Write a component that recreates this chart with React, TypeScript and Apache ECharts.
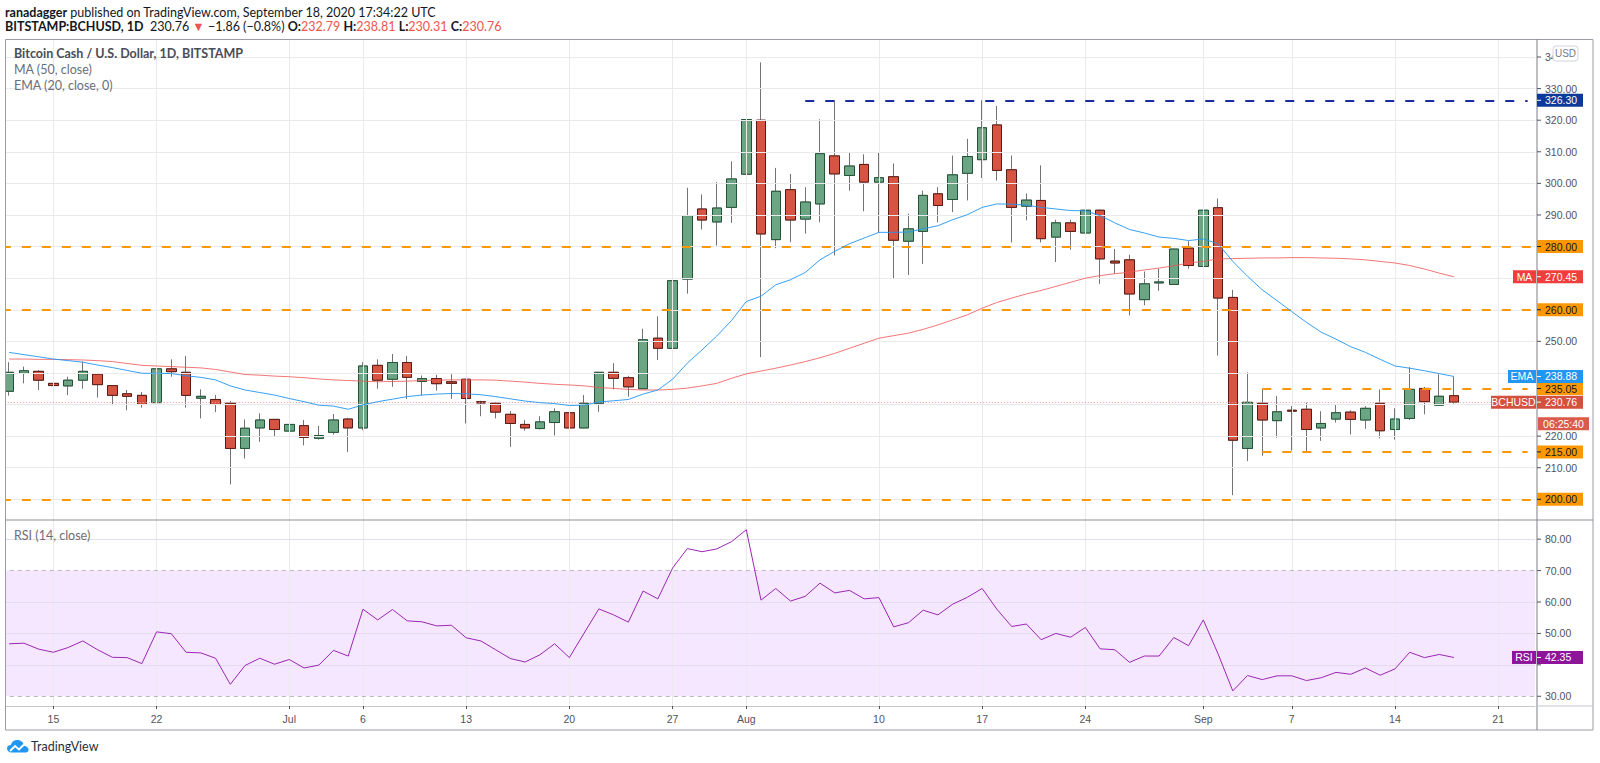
import React, { useEffect, useRef } from "react";
import * as echarts from "echarts";

// ---------- data ----------
const START_DATE = "2020-06-12";
const DAY_COUNT = 104; // Jun 12 .. Sep 23 (last 5 days empty)

const xTickDates = [
  "2020-06-15", "2020-06-22", "2020-07-01", "2020-07-06", "2020-07-13", "2020-07-20", "2020-07-27",
  "2020-08-01", "2020-08-10", "2020-08-17", "2020-08-24", "2020-09-01", "2020-09-07", "2020-09-14", "2020-09-21",
];
const xTickLabels = ["15", "22", "Jul", "6", "13", "20", "27", "Aug", "10", "17", "24", "Sep", "7", "14", "21"];

const open = [
  234.2, 239.9, 240.5, 236.7, 235.9, 237.7, 239.6, 236.0, 233.4, 232.9, 230.6, 241.3, 240.2, 232.0, 231.6, 230.4, 216.1, 222.6, 225.3, 221.6,
  223.3, 219.3, 221.2, 225.4, 222.6, 242.4, 238.0, 243.3, 237.3, 238.2, 237.2, 238.0, 230.9, 230.4, 226.9, 223.7, 222.4, 224.3, 227.4, 222.6,
  230.4, 240.2, 238.5, 235.0, 251.0, 247.8, 269.7, 291.9, 287.8, 292.4, 302.9, 320.0, 282.2, 298.0, 288.7, 293.5, 308.7, 302.5, 306.0, 300.4,
  302.1, 281.7, 284.8, 296.7, 294.9, 303.2, 307.5, 318.5, 304.3, 292.8, 294.6, 283.0, 287.5, 284.3, 291.5, 275.4, 275.8, 263.2, 268.5, 268.0,
  279.5, 273.7, 292.3, 263.9, 216.1, 230.4, 224.9, 228.2, 228.5, 222.6, 225.4, 227.6, 225.1, 230.4, 222.1, 225.6, 235.1, 229.8, 232.79,
];
const high = [
  243.4, 242.0, 240.9, 237.8, 238.8, 243.6, 240.0, 236.0, 234.6, 234.0, 244.1, 244.3, 245.4, 234.8, 233.0, 231.1, 225.3, 227.2, 225.3, 226.3,
  225.1, 223.2, 227.0, 225.8, 243.4, 244.3, 246.0, 245.4, 239.2, 239.4, 239.6, 238.2, 231.2, 230.6, 227.9, 225.1, 226.3, 228.8, 227.7, 233.0,
  240.3, 243.1, 239.1, 254.0, 257.9, 275.8, 298.6, 296.5, 300.4, 307.0, 322.1, 338.3, 304.9, 303.0, 298.8, 320.3, 326.3, 309.7, 309.2, 309.7,
  306.3, 290.4, 297.7, 298.8, 308.8, 314.1, 326.3, 324.5, 308.8, 296.8, 305.7, 288.5, 288.5, 294.4, 291.7, 279.2, 277.4, 272.1, 273.0, 279.3,
  281.7, 297.0, 295.2, 266.3, 240.2, 235.0, 232.7, 229.5, 230.6, 227.9, 230.0, 228.2, 229.5, 234.8, 228.8, 241.8, 235.6, 239.6, 238.81,
];
const low = [
  232.8, 236.7, 234.6, 224.2, 233.0, 235.0, 232.2, 229.8, 228.2, 229.0, 230.4, 238.8, 229.0, 225.6, 227.6, 204.7, 212.9, 218.2, 220.0, 221.0,
  217.1, 218.9, 220.5, 215.0, 221.9, 235.0, 235.6, 231.8, 232.9, 234.4, 231.8, 224.0, 226.3, 225.6, 216.6, 221.7, 222.1, 220.2, 220.5, 222.5,
  227.7, 234.8, 232.5, 235.0, 244.1, 247.5, 265.1, 285.4, 280.3, 287.5, 298.8, 245.0, 279.5, 281.4, 284.1, 287.7, 277.2, 297.7, 291.2, 284.3,
  269.9, 271.0, 274.5, 287.7, 290.9, 294.6, 301.7, 300.9, 281.3, 288.3, 281.3, 275.1, 279.0, 282.2, 268.2, 271.4, 258.2, 261.4, 266.0, 267.9,
  273.0, 268.4, 245.5, 201.3, 212.1, 213.8, 219.5, 215.4, 215.3, 218.5, 224.3, 220.5, 222.3, 219.3, 218.9, 225.1, 226.9, 229.6, 230.31,
];
const close = [
  240.2, 240.7, 237.7, 236.0, 237.7, 240.5, 236.3, 232.9, 232.6, 230.0, 241.3, 240.4, 232.9, 232.6, 230.0, 216.1, 222.5, 225.1, 222.1, 223.7,
  219.6, 220.2, 225.1, 222.6, 242.2, 237.7, 243.3, 238.6, 238.2, 236.6, 236.7, 231.9, 230.5, 227.6, 224.0, 222.6, 224.5, 227.7, 222.6, 230.4,
  240.2, 238.3, 235.6, 250.5, 247.8, 269.2, 289.8, 288.4, 292.2, 301.4, 320.2, 284.0, 297.5, 288.4, 294.1, 309.4, 303.0, 305.5, 300.4, 301.8,
  282.0, 285.6, 296.2, 293.0, 302.7, 308.5, 317.6, 304.1, 292.4, 294.7, 282.5, 287.5, 284.8, 291.5, 276.1, 274.8, 265.0, 268.2, 268.8, 279.2,
  274.0, 291.5, 263.7, 218.7, 230.7, 225.1, 227.7, 227.9, 222.1, 224.0, 227.4, 225.3, 228.8, 221.7, 225.4, 234.8, 230.9, 232.62, 230.76,
];
const ma50 = [
  244.4, 244.4, 244.3, 244.3, 244.2, 244.1, 243.9, 243.6, 243.0, 242.4, 242.2, 242.0, 241.8, 241.6, 241.1, 240.3, 239.5, 239.3, 239.0, 238.8,
  238.5, 238.1, 237.8, 237.6, 237.4, 237.2, 237.3, 237.4, 237.6, 237.7, 237.8, 237.8, 237.8, 237.7, 237.4, 237.1, 236.7, 236.4, 236.2, 235.9,
  235.4, 235.1, 234.8, 234.6, 234.6, 234.8, 235.2, 235.9, 236.7, 238.3, 239.7, 240.6, 241.5, 242.5, 243.6, 244.8, 246.2, 247.8, 249.4, 251.0,
  251.8, 252.6, 253.8, 255.2, 256.8, 258.4, 260.5, 262.3, 263.7, 265.0, 266.1, 267.4, 268.7, 270.0, 270.8, 271.4, 271.9, 272.6, 273.2, 273.9,
  274.8, 275.3, 276.1, 276.2, 276.3, 276.4, 276.4, 276.5, 276.5, 276.4, 276.3, 276.1, 275.8, 275.3, 274.8, 274.0, 272.9, 271.6, 270.45,
];
const ema20 = [
  246.5, 245.8, 245.1, 244.4, 243.9, 243.4, 242.5, 241.7, 240.8, 239.9, 239.9, 239.8, 239.1, 238.6, 237.8, 235.9, 234.6, 233.8, 233.0, 231.9,
  230.9, 229.8, 229.5, 228.5, 229.9, 230.9, 231.7, 232.5, 233.0, 233.3, 233.5, 233.4, 233.1, 232.5, 231.8, 231.1, 230.6, 230.3, 229.7, 229.8,
  230.8, 231.2, 231.6, 233.3, 234.6, 238.0, 243.1, 247.3, 251.7, 256.6, 262.6, 264.3, 267.9, 269.5, 271.8, 275.8, 278.5, 280.9, 282.7, 284.5,
  284.5, 284.6, 285.6, 286.6, 288.5, 290.1, 292.4, 293.5, 293.4, 293.1, 292.4, 291.9, 291.4, 291.3, 289.8, 287.5, 285.4, 284.3, 283.0, 282.6,
  281.9, 282.4, 280.9, 275.3, 270.6, 266.3, 262.9, 259.4, 256.0, 252.9, 250.7, 248.3, 246.5, 244.3, 242.2, 241.5, 240.7, 239.8, 238.88,
];
const rsi14 = [
  46.7, 46.9, 45.0, 44.0, 45.5, 47.6, 44.8, 42.4, 42.3, 40.4, 50.5, 49.9, 44.0, 43.8, 42.1, 33.8, 39.8, 42.1, 40.2, 41.7,
  39.0, 39.9, 44.6, 42.8, 57.7, 54.3, 57.6, 54.0, 53.7, 52.4, 52.6, 48.6, 47.6, 44.8, 42.0, 40.9, 43.2, 46.7, 42.3, 50.1,
  57.8, 55.9, 53.6, 63.5, 61.0, 70.8, 77.0, 76.0, 76.9, 79.2, 83.0, 60.6, 64.3, 60.3, 61.8, 66.0, 62.9, 63.7, 61.0, 61.4,
  52.1, 53.4, 57.4, 55.9, 59.3, 61.5, 64.3, 57.7, 52.2, 53.0, 48.0, 50.0, 48.8, 51.9, 45.1, 44.8, 40.8, 42.8, 42.8, 48.7,
  46.1, 54.3, 43.5, 31.7, 36.6, 35.3, 36.5, 36.5, 35.0, 35.9, 37.6, 37.0, 39.0, 36.7, 38.7, 44.0, 42.3, 43.3, 42.35,
];

const priceTicks = [200, 210, 220, 230, 240, 250, 260, 270, 280, 290, 300, 310, 320, 330, 340];
const rsiTicks = [30, 40, 50, 60, 70, 80];
const orangeLevels = [280, 260, 200];
const rangeLevels = [235.05, 215];
const rangeStart = "2020-09-05";
const rangeEnd = "2020-09-23";
const resistanceLevel = 326.3;
const resistanceStart = "2020-08-05";
const countdown = "06:25:40";

function buildCategories(): string[] {
  const t0 = Date.parse(START_DATE + "T00:00:00Z");
  const out: string[] = [];
  for (let i = 0; i < DAY_COUNT; i++) out.push(new Date(t0 + i * 86400000).toISOString().slice(0, 10));
  return out;
}

const FONT = "Lato, 'Liberation Sans', 'Noto Sans', sans-serif";
const AXFONT = "'Liberation Sans', Arial, sans-serif";
const ORANGE = "#ff9800";
const GRIDC = "#eaeaec";

export default function App() {
  const ref = useRef<HTMLDivElement>(null);
  useEffect(() => {
    const el = ref.current!;
    const chart = echarts.init(el, null, { renderer: "svg" });
    const cats = buildCategories();
    const idx = (d: string) => cats.indexOf(d);
    const full = open.map((o, i) => [o, close[i], low[i], high[i]]);
    const body = open.map((o, i) => [o, close[i], Math.min(o, close[i]), Math.max(o, close[i])]);
    const lastClose = close[close.length - 1];
    const lastMA = ma50[ma50.length - 1];
    const lastEMA = ema20[ema20.length - 1];
    const lastRSI = rsi14[rsi14.length - 1];

    const vLines = xTickDates.map((d) => ({ xAxis: idx(d), lineStyle: { color: GRIDC, width: 1, type: "solid" } }));
    const hLines = priceTicks.map((v) => ({ yAxis: v, lineStyle: { color: GRIDC, width: 1, type: "solid" } }));
    const rsiGrid = [80, 60, 50, 40].map((v) => ({ yAxis: v, lineStyle: { color: "#e4dcea", width: 1, type: "solid" } }));
    const dash = [9, 11];
    const levelLines: any[] = [
      ...orangeLevels.map((v) => ({ yAxis: v, lineStyle: { color: ORANGE, width: 2, type: dash } })),
      ...rangeLevels.map((v) => [
        { coord: [idx(rangeStart), v], lineStyle: { color: ORANGE, width: 2, type: dash } },
        { coord: [idx(rangeEnd), v] },
      ]),
      [
        { coord: [idx(resistanceStart), resistanceLevel], lineStyle: { color: "#1a2a9e", width: 2, type: dash } },
        { coord: [DAY_COUNT - 1, resistanceLevel] },
      ],
      { yAxis: lastClose, lineStyle: { color: "#e89a9a", width: 1, type: [1, 2] } },
    ];

    const labelIntervalFn = (_i: number, v: string) => xTickDates.indexOf(v) >= 0;

    const option: any = {
      animation: false,
      backgroundColor: "#ffffff",
      textStyle: { fontFamily: AXFONT },
      grid: [
        { left: 1.8, top: 39, width: 1533.2, height: 481 },
        { left: 1.8, top: 520, width: 1533.2, height: 186 },
      ],
      xAxis: [
        { type: "category", data: cats, gridIndex: 0, boundaryGap: true, show: false },
        {
          type: "category", data: cats, gridIndex: 1, boundaryGap: true,
          axisLine: { show: true, lineStyle: { color: "#c5c7cd", width: 1 } },
          axisTick: { show: true, interval: labelIntervalFn, alignWithLabel: true, length: 3, lineStyle: { color: "#50535e" } },
          axisLabel: {
            show: true, interval: labelIntervalFn, margin: 7, color: "#50535e", fontSize: 10.5, fontFamily: AXFONT,
            formatter: (v: string) => { const k = xTickDates.indexOf(v); return k >= 0 ? xTickLabels[k] : ""; },
          },
          splitLine: { show: false },
        },
      ],
      yAxis: [
        { type: "value", gridIndex: 0, min: 193.45, max: 345.7, position: "right", show: false, scale: true },
        { type: "value", gridIndex: 1, min: 26.9, max: 86.1, position: "right", show: false, scale: true },
      ],
      series: [
        {
          name: "grid-price", type: "line", xAxisIndex: 0, yAxisIndex: 0, data: close, z: 0, silent: true,
          showSymbol: false, lineStyle: { opacity: 0, width: 0 },
          markLine: { silent: true, symbol: ["none", "none"], label: { show: false }, data: [...vLines, ...hLines], animation: false },
        },
        {
          name: "wicks", type: "candlestick", xAxisIndex: 0, yAxisIndex: 0, data: full, barWidth: 10, z: 3, silent: true,
          itemStyle: { color: "#6ba583", color0: "#d75442", borderColor: "#737375", borderColor0: "#737375", borderWidth: 1 },
        },
        {
          name: "BCHUSD", type: "candlestick", xAxisIndex: 0, yAxisIndex: 0, data: body, barWidth: 10, z: 4, silent: true,
          itemStyle: { color: "#6ba583", color0: "#d75442", borderColor: "#225437", borderColor0: "#5b1a13", borderWidth: 1 },
          markLine: { silent: true, symbol: ["none", "none"], label: { show: false }, data: levelLines, animation: false },
        },
        {
          name: "MA", type: "line", xAxisIndex: 0, yAxisIndex: 0, data: ma50, showSymbol: false, z: 5, silent: true,
          lineStyle: { color: "#f05454", width: 1, opacity: 0.8 },
        },
        {
          name: "EMA", type: "line", xAxisIndex: 0, yAxisIndex: 0, data: ema20, showSymbol: false, z: 5, silent: true,
          lineStyle: { color: "#2196f3", width: 1, opacity: 0.9 },
        },
        {
          name: "RSI", type: "line", xAxisIndex: 1, yAxisIndex: 1, data: rsi14, showSymbol: false, z: 5, silent: true,
          lineStyle: { color: "#9a27b4", width: 1 },
          markArea: { silent: true, itemStyle: { color: "rgba(153,21,255,0.1)" }, data: [[{ yAxis: 30 }, { yAxis: 70 }]] },
          markLine: {
            silent: true, symbol: ["none", "none"], label: { show: false }, animation: false,
            data: [
              ...xTickDates.map((d) => ({ xAxis: idx(d), lineStyle: { color: GRIDC, width: 1, type: "solid" } })),
              ...rsiGrid,
              { yAxis: 70, lineStyle: { color: "#b9b9bd", width: 1, type: [4, 4] } },
              { yAxis: 30, lineStyle: { color: "#b9b9bd", width: 1, type: [4, 4] } },
            ],
          },
        },
      ],
    };
    chart.setOption(option);

    const py = (v: number) => chart.convertToPixel({ yAxisIndex: 0 }, v) as number;
    const ry = (v: number) => chart.convertToPixel({ yAxisIndex: 1 }, v) as number;
    const AX = 1537;
    const g: any[] = [];
    const txt = (x: number, y: number, text: string, fill: string, size = 12, weight = "normal", align = "left", family = FONT) => ({
      type: "text", silent: true, z: 120,
      style: { x, y, text, fill, fontSize: size, fontWeight: weight, fontFamily: family, align, verticalAlign: "middle" },
    });
    const tick = (y: number, color: string) => ({
      type: "line", silent: true, z: 121, shape: { x1: AX, y1: y, x2: AX + 4, y2: y }, style: { stroke: color, lineWidth: 1 },
    });
    const valueBox = (y: number, text: string, bg: string, fg: string, w = 46) => {
      g.push({ type: "rect", silent: true, z: 115, shape: { x: AX, y: y - 6.5, width: w, height: 13 }, style: { fill: bg } });
      g.push(tick(y, fg));
      g.push(txt(AX + 8, y, text, fg, 10.5, "normal", "left", AXFONT));
    };
    const tagBox = (y: number, text: string, bg: string, w: number) => {
      g.push({ type: "rect", silent: true, z: 115, shape: { x: AX - w - 1, y: y - 6.5, width: w, height: 13 }, style: { fill: bg } });
      g.push(txt(AX - 1 - w / 2, y, text, "#ffffff", 10.5, "normal", "center", AXFONT));
    };

    // colored price labels
    const boxes: { v: number; text: string; bg: string; fg: string }[] = [
      { v: resistanceLevel, text: resistanceLevel.toFixed(2), bg: "#0d3a9a", fg: "#ffffff" },
      ...orangeLevels.map((v) => ({ v, text: v.toFixed(2), bg: ORANGE, fg: "#131722" })),
      ...rangeLevels.map((v) => ({ v, text: v.toFixed(2), bg: ORANGE, fg: "#131722" })),
      { v: lastMA, text: lastMA.toFixed(2), bg: "#f23d3d", fg: "#ffffff" },
      { v: lastEMA, text: lastEMA.toFixed(2), bg: "#2196f3", fg: "#ffffff" },
      { v: lastClose, text: lastClose.toFixed(2), bg: "#d4503f", fg: "#ffffff" },
    ];
    const boxYs = boxes.map((b) => py(b.v));
    const topPaneY = 46; // USD badge top
    // plain axis labels
    priceTicks.forEach((v) => {
      const y = py(v);
      if (boxYs.some((by) => Math.abs(by - y) < 11)) return;
      g.push(tick(y, "#50535e"));
      const t: any = txt(AX + 8, y, v.toFixed(2), "#50535e", 10.5, "normal", "left", AXFONT);
      if (y < topPaneY + 16) {
        // partly hidden by the USD badge, as in the original
        t.style.width = 13;
        t.style.overflow = "truncate";
        t.style.ellipsis = "";
      }
      g.push(t);
    });
    boxes.forEach((b, i) => valueBox(boxYs[i], b.text, b.bg, b.fg));
    tagBox(py(lastMA), "MA", "#f23d3d", 23);
    tagBox(py(lastEMA), "EMA", "#2196f3", 28);
    tagBox(py(lastClose), "BCHUSD", "#d4503f", 45);
    // countdown
    const cy = py(lastClose) + 21.5;
    g.push({ type: "rect", silent: true, z: 115, shape: { x: AX + 1, y: cy - 6.5, width: 51, height: 13 }, style: { fill: "#da5a4b" } });
    g.push(txt(AX + 26.5, cy, countdown, "#ffffff", 10.5, "normal", "center", AXFONT));

    // RSI axis
    const rY = ry(lastRSI);
    rsiTicks.forEach((v) => {
      const y = ry(v);
      g.push(tick(y, "#50535e"));
      if (Math.abs(y - rY) < 11) return;
      g.push(txt(AX + 8, y, v.toFixed(2), "#50535e", 10.5, "normal", "left", AXFONT));
    });
    g.push({ type: "rect", silent: true, z: 115, shape: { x: AX, y: rY - 6.5, width: 46, height: 13 }, style: { fill: "#8e1599" } });
    g.push(tick(rY, "#ffffff"));
    g.push(txt(AX + 8, rY, lastRSI.toFixed(2), "#ffffff", 10.5, "normal", "left", AXFONT));
    tagBox(rY, "RSI", "#8e1599", 24);

    // USD box
    g.push({ type: "rect", silent: true, z: 125, shape: { x: 1553, y: topPaneY, width: 25, height: 15, r: 3 }, style: { fill: "#ffffff", stroke: "#d1d4dc", lineWidth: 1 } });
    g.push({ ...txt(1565.5, topPaneY + 7.5, "USD", "#787b86", 10, "normal", "center", AXFONT), z: 126 });

    // frames
    g.push({ type: "rect", silent: true, z: 110, shape: { x: 5.5, y: 39.5, width: 1587.5, height: 690.5 }, style: { fill: "none", stroke: "#9a9da5", lineWidth: 1 } });
    g.push({ type: "line", silent: true, z: 110, shape: { x1: 5.5, y1: 520, x2: 1593, y2: 520 }, style: { stroke: "#8c8f96", lineWidth: 1.2 } });
    g.push({ type: "line", silent: true, z: 110, shape: { x1: AX, y1: 39.5, x2: AX, y2: 730 }, style: { stroke: "#7b7e87", lineWidth: 1 } });
    g.push({ type: "line", silent: true, z: 110, shape: { x1: AX, y1: 706, x2: 1593, y2: 706 }, style: { stroke: "#c5c7cd", lineWidth: 1 } });
    // cover the few pixels left of the frame
    g.push({ type: "rect", silent: true, z: 109, shape: { x: 0, y: 39, width: 5, height: 692 }, style: { fill: "#ffffff" } });

    // header
    const chg = lastClose - close[close.length - 2];
    const pct = (chg / close[close.length - 2]) * 100;
    const minus = (n: number, d: number) => (n < 0 ? "\u2212" : "+") + Math.abs(n).toFixed(d);
    g.push({
      type: "text", silent: true, z: 130,
      style: {
        x: 5, y: 12, verticalAlign: "middle", fontFamily: FONT, fontSize: 12.5, fill: "#131722",
        text: "{b|ranadagger} published on TradingView.com, September 18, 2020 17:34:22 UTC",
        rich: { b: { fontWeight: "bold", fontFamily: FONT, fontSize: 12.5, fill: "#131722" } },
      },
    });
    const o = open[open.length - 1], h = high[high.length - 1], l = low[low.length - 1];
    g.push({
      type: "text", silent: true, z: 130,
      style: {
        x: 5, y: 26, verticalAlign: "middle", fontFamily: FONT, fontSize: 12.5, fill: "#131722",
        text:
          `{b|BITSTAMP:BCHUSD, 1D}  ${lastClose.toFixed(2)} {r|\u25BC} ${minus(chg, 2)} (${minus(pct, 1)}%) ` +
          `{b|O:}{r|${o.toFixed(2)}} {b|H:}{r|${h.toFixed(2)}} {b|L:}{r|${l.toFixed(2)}} {b|C:}{r|${lastClose.toFixed(2)}}`,
        rich: {
          b: { fontWeight: "bold", fontFamily: FONT, fontSize: 12.5, fill: "#131722" },
          r: { fontFamily: FONT, fontSize: 12.5, fill: "#ef5350" },
        },
      },
    });
    // legends
    g.push(txt(14, 53.5, "Bitcoin Cash / U.S. Dollar, 1D, BITSTAMP", "#4a4d57", 12.5, "bold"));
    g.push(txt(14, 69.5, "MA (50, close)", "#6b6e78", 12.5));
    g.push(txt(14, 85, "EMA (20, close, 0)", "#6b6e78", 12.5));
    g.push(txt(14, 535, "RSI (14, close)", "#6b6e78", 12.5));

    // TradingView logo
    try {
      (echarts as any).graphic.registerShape(
        "tvcloud",
        (echarts as any).graphic.extendPath(
          "M5 15 C2 15 0 13 0 10.5 C0 8 2 6.5 4.2 6.6 C5 3.2 8 1 11.5 1 C15.5 1 18.6 3.8 19 7.5 C21.8 7.8 24 9.8 24 12 C24 13.8 22.8 15 21 15 Z",
          {}
        )
      );
    } catch (e) {}
    g.push({ type: "tvcloud", silent: true, z: 130, x: 7, y: 739, scaleX: 0.9, scaleY: 0.9, style: { fill: "#2196f3" } });
    g.push({ type: "polyline", silent: true, z: 131, shape: { points: [[10, 751], [15, 746], [19, 749.5], [25, 743.5]] }, style: { stroke: "#ffffff", lineWidth: 1.8, fill: "none" } });
    g.push(txt(31, 746.5, "TradingView", "#2a2e39", 12.5));

    chart.setOption({ graphic: g });
    return () => chart.dispose();
  }, []);
  return (
    <div
      ref={ref}
      style={{ position: "absolute", left: 0, top: 0, width: 1600, height: 763, background: "#ffffff" }}
    />
  );
}
